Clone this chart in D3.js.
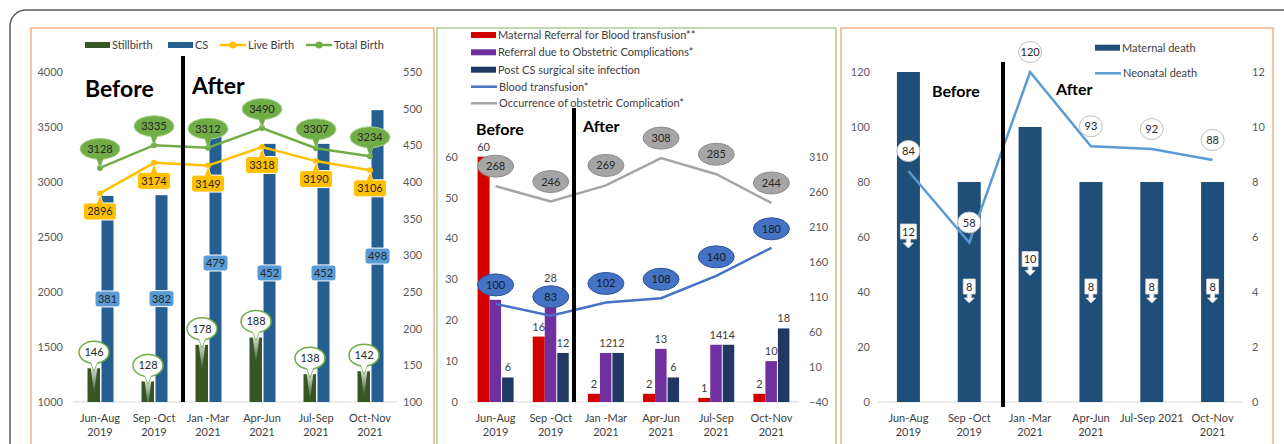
<!DOCTYPE html>
<html>
<head>
<meta charset="utf-8">
<script src="https://cdn.jsdelivr.net/npm/d3@7"></script>
<style>
  body { margin: 0; background: #fff; }
  svg text { font-family: Lato, "Open Sans", sans-serif; }
</style>
</head>
<body>
<div id="chart"></div>
<script>
// --- data ---
const periods  = [["Jun-Aug","2019"],["Sep -Oct","2019"],["Jan -Mar","2021"],["Apr-Jun","2021"],["Jul-Sep","2021"],["Oct-Nov","2021"]];
const periods3 = [["Jun-Aug","2019"],["Sep -Oct","2019"],["Jan -Mar","2021"],["Apr-Jun","2021"],["Jul-Sep 2021"],["Oct-Nov","2021"]];

// panel 1
const stillbirth = [146, 128, 178, 188, 138, 142];
const cs         = [381, 382, 479, 452, 452, 498];
const liveBirth  = [2896, 3174, 3149, 3318, 3190, 3106];
const totalBirth = [3128, 3335, 3312, 3490, 3307, 3234];

// panel 2
const bloodReferral         = [60, 16, 2, 2, 1, 2];
const obstetricReferral     = [25, 28, 12, 13, 14, 10];
const csInfection           = [6, 12, 12, 6, 14, 18];
const bloodTransfusion      = [100, 83, 102, 108, 140, 180];
const obstetricComplication = [268, 246, 269, 308, 285, 244];

// panel 3
const maternalDeath = [12, 8, 10, 8, 8, 8];
const neonatalDeath = [84, 58, 120, 93, 92, 88];

// tick labels
const ticks1L = [1000, 1500, 2000, 2500, 3000, 3500, 4000];
const ticks1R = [100, 150, 200, 250, 300, 350, 400, 450, 500, 550];
const ticks2L = [0, 10, 20, 30, 40, 50, 60];
const ticks2R = [-40, 10, 60, 110, 160, 210, 260, 310];
const ticks3L = [0, 20, 40, 60, 80, 100, 120];
const ticks3R = [0, 2, 4, 6, 8, 10, 12];

// --- svg root ---
const W = 1284, H = 444;
const base = 402, top0 = 72;
const svg = d3.select("#chart").append("svg").attr("width", W).attr("height", H);

// outer rounded frame
svg.append("rect")
  .attr("x", 10).attr("y", 10).attr("width", 1300).attr("height", 470).attr("rx", 16)
  .attr("fill", "none").attr("stroke", "#5a5a5a").attr("stroke-width", 1.5);

// panel frames
[[31, 403, "#F4B183"], [437, 399, "#A9D18E"], [841, 432, "#F4B183"]].forEach(([x, w, c]) => {
  svg.append("rect").attr("x", x).attr("y", 28).attr("width", w).attr("height", 440)
    .attr("fill", "none").attr("stroke", c).attr("stroke-width", 1.5);
});

// --- helpers ---
function yAxis(scale, ticks, side, x, pad) {
  const ax = (side === "left" ? d3.axisLeft(scale) : d3.axisRight(scale))
    .tickValues(ticks).tickSize(0).tickPadding(pad).tickFormat(d3.format("d"));
  svg.append("g").attr("transform", `translate(${x},0)`).call(ax)
    .call(g => g.select(".domain").remove())
    .selectAll("text").attr("fill", "#595959").style("font-size", "11px");
}

function xAxis(x, labels) {
  const [x0, x1] = x.range();
  svg.append("line").attr("x1", x0).attr("x2", x1).attr("y1", base).attr("y2", base)
    .attr("stroke", "#d9d9d9").attr("stroke-width", 1);
  labels.forEach((l, i) => {
    const cx = x(i) + x.bandwidth() / 2;
    l.forEach((s, j) => {
      svg.append("text").attr("x", cx).attr("y", 422 + j * 14)
        .attr("text-anchor", "middle").attr("fill", "#404040").style("font-size", "11px").text(s);
    });
  });
}

function divider(x, y1, y2) {
  svg.append("line").attr("x1", x).attr("x2", x).attr("y1", y1).attr("y2", y2)
    .attr("stroke", "#000").attr("stroke-width", 4);
}

function bigText(x, y, size, s) {
  svg.append("text").attr("x", x).attr("y", y).attr("font-weight", "bold")
    .attr("fill", "#000").style("font-size", size + "px").text(s);
}

// callout bubble: ellipse or rect with optional pointer
function callout(o) {
  const g = svg.append("g");
  let tri = null;
  if (o.tipY != null) {
    const dir = o.tipY > o.cy ? 1 : -1;
    const by = o.cy + dir * (o.h / 2 - 3);
    tri = d3.line()([[o.cx - o.tipW / 2, by], [o.tipX, o.tipY], [o.cx + o.tipW / 2, by]]) + "Z";
    g.append("path").attr("d", tri).attr("fill", o.fill).attr("stroke", o.stroke).attr("stroke-width", o.sw);
  }
  if (o.shape === "ellipse") {
    g.append("ellipse").attr("cx", o.cx).attr("cy", o.cy).attr("rx", o.w / 2).attr("ry", o.h / 2)
      .attr("fill", o.fill).attr("stroke", o.stroke).attr("stroke-width", o.sw);
  } else {
    g.append("rect").attr("x", o.cx - o.w / 2).attr("y", o.cy - o.h / 2).attr("width", o.w).attr("height", o.h)
      .attr("rx", 3).attr("fill", o.fill).attr("stroke", o.stroke).attr("stroke-width", o.sw);
  }
  if (tri) g.append("path").attr("d", tri).attr("fill", o.fill);
  g.append("text").attr("x", o.cx).attr("y", o.cy + 4).attr("text-anchor", "middle")
    .attr("fill", o.color || "#262626").style("font-size", "11px").text(o.text);
}

function legendRect(x, y, color, label) {
  svg.append("rect").attr("x", x).attr("y", y - 3).attr("width", 25).attr("height", 6).attr("fill", color);
  svg.append("text").attr("x", x + 27).attr("y", y + 4).attr("fill", "#404040").style("font-size", "11px").text(label);
}
function legendLine(x, y, color, label, dot) {
  svg.append("line").attr("x1", x).attr("x2", x + 26).attr("y1", y).attr("y2", y)
    .attr("stroke", color).attr("stroke-width", 2.5);
  if (dot) svg.append("circle").attr("cx", x + 13).attr("cy", y).attr("r", 3.5).attr("fill", color);
  svg.append("text").attr("x", x + 28).attr("y", y + 4).attr("fill", "#404040").style("font-size", "11px").text(label);
}

// gradient for the stillbirth pointer streak
const defs = svg.append("defs");
const grad = defs.append("linearGradient").attr("id", "streak").attr("x1", 0).attr("y1", 0).attr("x2", 0).attr("y2", 1);
grad.append("stop").attr("offset", "0%").attr("stop-color", "#fff").attr("stop-opacity", 1);
grad.append("stop").attr("offset", "100%").attr("stop-color", "#fff").attr("stop-opacity", 0);

// =================== PANEL 1 ===================
const x1 = d3.scaleBand().domain(d3.range(6)).range([73, 397]);
const y1L = d3.scaleLinear().domain([1000, 4000]).range([base, top0]);
const y1R = d3.scaleLinear().domain([100, 550]).range([base, top0]);
const c1 = i => x1(i) + x1.bandwidth() / 2;

yAxis(y1L, ticks1L, "left", 73, 10);
yAxis(y1R, ticks1R, "right", 397, 6);
xAxis(x1, periods);

svg.append("g").selectAll("rect").data(stillbirth).join("rect")
  .attr("x", (d, i) => c1(i) - 12.5).attr("width", 12.5)
  .attr("y", d => y1R(d)).attr("height", d => base - y1R(d)).attr("fill", "#375623");
svg.append("g").selectAll("rect").data(cs).join("rect")
  .attr("x", (d, i) => c1(i) + 1.5).attr("width", 12)
  .attr("y", d => y1R(d)).attr("height", d => base - y1R(d)).attr("fill", "#255E91");

const line1 = d3.line().x((d, i) => c1(i)).y(d => y1L(d));
[[liveBirth, "#FFC000"], [totalBirth, "#70AD47"]].forEach(([vals, color]) => {
  svg.append("path").attr("d", line1(vals)).attr("fill", "none").attr("stroke", color).attr("stroke-width", 2.5);
  svg.append("g").selectAll("circle").data(vals).join("circle")
    .attr("cx", (d, i) => c1(i)).attr("cy", d => y1L(d)).attr("r", 3).attr("fill", color);
});

divider(183, 56, base);
bigText(85, 97, 23, "Before");
bigText(192, 94, 23, "After");

// CS labels (centre of bar)
cs.forEach((d, i) => callout({
  cx: c1(i) + 7.5, cy: (y1R(d) + base) / 2, w: 25, h: 16, shape: "rect",
  fill: "#5B9BD5", stroke: "#fff", sw: 1, text: d
}));
// stillbirth labels with streak
stillbirth.forEach((d, i) => {
  const cx = c1(i) - 6, t = y1R(d);
  svg.append("path").attr("d", d3.line()([[cx - 4, t - 6], [cx, t + 26], [cx + 4, t - 6]]) + "Z")
    .attr("fill", "url(#streak)");
  callout({
    cx: cx, cy: t - 16, w: 30, h: 22, shape: "ellipse", tipX: cx, tipY: t + 2, tipW: 8,
    fill: "#fff", stroke: "#70AD47", sw: 1.5, text: d
  });
});
// live birth labels (below point)
liveBirth.forEach((d, i) => callout({
  cx: c1(i), cy: y1L(d) + 18, w: 33, h: 17, shape: "rect", tipX: c1(i), tipY: y1L(d) + 2, tipW: 8,
  fill: "#FFC000", stroke: "#fff", sw: 1, text: d
}));
// total birth labels (above point)
totalBirth.forEach((d, i) => callout({
  cx: c1(i), cy: y1L(d) - 19, w: 40, h: 21, shape: "ellipse", tipX: c1(i), tipY: y1L(d) - 1, tipW: 8,
  fill: "#70AD47", stroke: "#A9D18E", sw: 1, text: d
}));

legendRect(85, 45, "#375623", "Stillbirth");
legendRect(168, 45, "#255E91", "CS");
legendLine(220, 45, "#FFC000", "Live Birth", true);
legendLine(306, 45, "#70AD47", "Total Birth", true);

// =================== PANEL 2 ===================
const x2 = d3.scaleBand().domain(d3.range(6)).range([468, 799]);
const y2L = d3.scaleLinear().domain([0, 60]).range([base, 156.7]);
const y2R = d3.scaleLinear().domain([-40, 310]).range([base, 156.7]);
const c2 = i => x2(i) + x2.bandwidth() / 2;

yAxis(y2L, ticks2L, "left", 468, 10);
yAxis(y2R, ticks2R, "right", 799, 10);
xAxis(x2, periods);

// blood transfusion label ellipses (used to hide bar labels they cover, as in the original)
const btCentre = i => [c2(i), y2R(bloodTransfusion[i]) - 19];
const covered = (x, y, i) => {
  const [ex, ey] = btCentre(i);
  return Math.abs(x - ex) < 16 && Math.abs(y - 4 - ey) < 9;
};

const bars2 = [
  { vals: bloodReferral, color: "#D40000", dx: -18, w: 12 },
  { vals: obstetricReferral, color: "#7030A0", dx: -6, w: 11.5 },
  { vals: csInfection, color: "#203864", dx: 6.5, w: 11.5 }
];
bars2.forEach(s => {
  svg.append("g").selectAll("rect").data(s.vals).join("rect")
    .attr("x", (d, i) => c2(i) + s.dx).attr("width", s.w)
    .attr("y", d => y2L(d)).attr("height", d => base - y2L(d)).attr("fill", s.color);
  s.vals.forEach((d, i) => {
    const tx = c2(i) + s.dx + s.w / 2, ty = y2L(d) - 6;
    if (covered(tx, ty, i)) return;
    svg.append("text").attr("x", tx).attr("y", ty)
      .attr("text-anchor", "middle").attr("fill", "#404040").style("font-size", "11px").text(d);
  });
});

const line2 = d3.line().x((d, i) => c2(i)).y(d => y2R(d));
svg.append("path").attr("d", line2(obstetricComplication)).attr("fill", "none")
  .attr("stroke", "#A5A5A5").attr("stroke-width", 2.5);
svg.append("path").attr("d", line2(bloodTransfusion)).attr("fill", "none")
  .attr("stroke", "#4472C4").attr("stroke-width", 2.5);

divider(574, 108, base);
bigText(476, 135, 16, "Before");
bigText(583, 132, 16, "After");

obstetricComplication.forEach((d, i) => callout({
  cx: c2(i), cy: y2R(d) - 20, w: 36, h: 22, shape: "ellipse",
  fill: "#A5A5A5", stroke: "#8c8c8c", sw: 1, text: d
}));
bloodTransfusion.forEach((d, i) => {
  const [cx, cy] = btCentre(i);
  callout({
    cx: cx, cy: cy, w: 36, h: 22, shape: "ellipse",
    fill: "#4472C4", stroke: "#2F5597", sw: 1, text: d, color: "#1a1a1a"
  });
});

legendRect(471, 35, "#D40000", "Maternal Referral for Blood transfusion**");
legendRect(471, 52.3, "#7030A0", "Referral due to Obstetric Complications*");
legendRect(471, 69.7, "#203864", "Post CS surgical site infection");
legendLine(471, 86.7, "#4472C4", "Blood transfusion*", false);
legendLine(471, 103.3, "#A5A5A5", "Occurrence of obstetric Complication*", false);

// =================== PANEL 3 ===================
const x3 = d3.scaleBand().domain(d3.range(6)).range([878, 1243]);
const y3L = d3.scaleLinear().domain([0, 120]).range([base, top0]);
const y3R = d3.scaleLinear().domain([0, 12]).range([base, top0]);
const c3 = i => x3(i) + x3.bandwidth() / 2;

yAxis(y3L, ticks3L, "left", 878, 8);
yAxis(y3R, ticks3R, "right", 1243, 9);
xAxis(x3, periods3);

svg.append("g").selectAll("rect").data(maternalDeath).join("rect")
  .attr("x", (d, i) => c3(i) - 11.5).attr("width", 23)
  .attr("y", d => y3R(d)).attr("height", d => base - y3R(d)).attr("fill", "#1F4E79");

const line3 = d3.line().x((d, i) => c3(i)).y(d => y3L(d));
svg.append("path").attr("d", line3(neonatalDeath)).attr("fill", "none")
  .attr("stroke", "#5B9BD5").attr("stroke-width", 2.5);

divider(1003, 62, 407);
bigText(932, 97, 16, "Before");
bigText(1056, 95, 16, "After");

// maternal death: down-arrow callouts in the bars
maternalDeath.forEach((d, i) => {
  const cx = c3(i), cy = (y3R(d) + base) / 2 - 4, w = String(d).length > 1 ? 16 : 12;
  const p = `M${cx - w / 2},${cy - 9}H${cx + w / 2}V${cy + 6}H${cx + 2}V${cy + 10}H${cx + 5}` +
            `L${cx},${cy + 15}L${cx - 5},${cy + 10}H${cx - 2}V${cy + 6}H${cx - w / 2}Z`;
  svg.append("path").attr("d", p).attr("fill", "#fff").attr("stroke", "#d9d9d9").attr("stroke-width", 0.8);
  svg.append("text").attr("x", cx).attr("y", cy + 2.5).attr("text-anchor", "middle")
    .attr("fill", "#262626").style("font-size", "11px").text(d);
});
neonatalDeath.forEach((d, i) => callout({
  cx: c3(i), cy: y3L(d) - 20, w: 23, h: 21, shape: "ellipse",
  fill: "#fff", stroke: "#bfbfbf", sw: 1, text: d
}));

legendRect(1095, 47.7, "#1F4E79", "Maternal death");
legendLine(1095, 73.3, "#5B9BD5", "Neonatal death", false);
</script>
</body>
</html>
